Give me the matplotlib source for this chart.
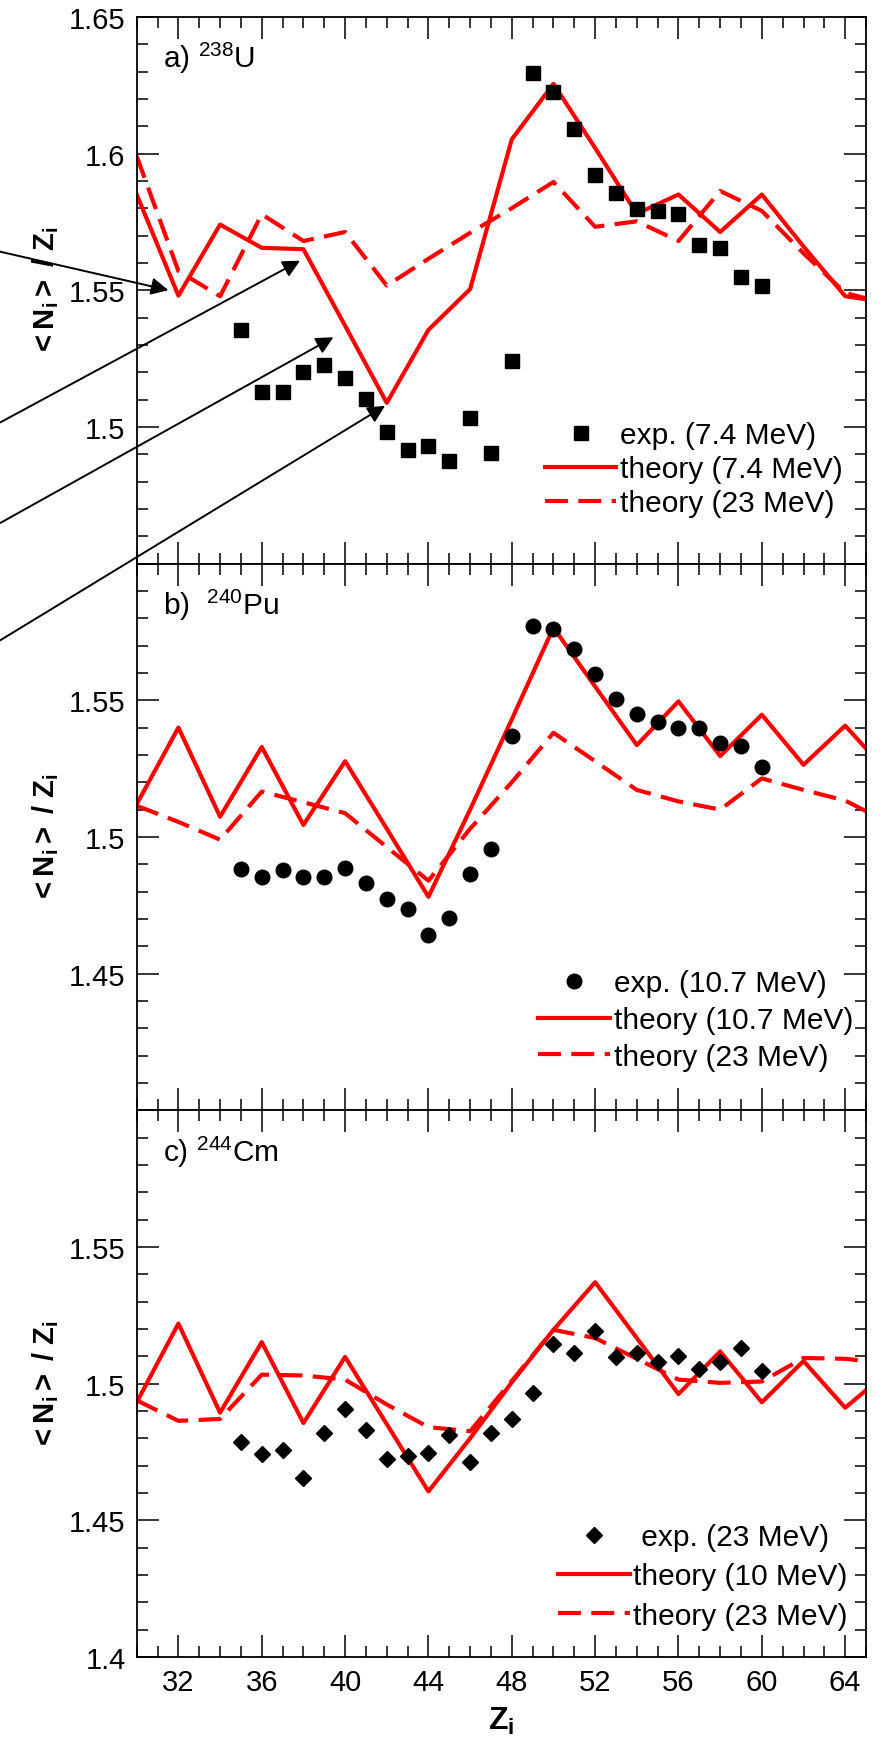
import matplotlib
matplotlib.use('Agg')
import matplotlib.pyplot as plt
from matplotlib.lines import Line2D
from matplotlib.ticker import MultipleLocator, FuncFormatter

plt.rcParams['font.family'] = ['Liberation Sans', 'DejaVu Sans']
plt.rcParams['mathtext.fontset'] = 'custom'
plt.rcParams['mathtext.rm'] = 'Liberation Sans'
plt.rcParams['mathtext.it'] = 'Liberation Sans:italic'
plt.rcParams['mathtext.bf'] = 'Liberation Sans:bold'

# theory is tabulated on even Z, experiment on every Z from 35 to 60
z_theory = [30, 32, 34, 36, 38, 40, 42, 44, 46, 48, 50, 52, 54, 56, 58, 60, 62, 64, 66]
z_exp = list(range(35, 61))

# a) 238U
u_theory_lo = [1.585, 1.548, 1.574, 1.5655, 1.565, 1.537, 1.5088, 1.5355, 1.5504, 1.6052,
               1.6255, 1.602, 1.578, 1.585, 1.5713, 1.585, 1.566, 1.5478, 1.5456]
u_theory_hi = [1.599, 1.557, 1.5478, 1.5778, 1.568, 1.5713, 1.5517, 1.5615, 1.571, 1.580,
               1.5896, 1.5732, 1.5752, 1.568, 1.5863, 1.579, 1.5635, 1.549, 1.545]
u_exp = [1.5354, 1.5128, 1.5128, 1.5201, 1.5227, 1.518, 1.5102, 1.4982, 1.4914, 1.493,
         1.4875, 1.5034, 1.4906, 1.524, 1.6296, 1.6225, 1.6089, 1.5922, 1.5856, 1.5798,
         1.5791, 1.5778, 1.5667, 1.5654, 1.555, 1.5517]

# b) 240Pu
pu_theory_lo = [1.512, 1.540, 1.5074, 1.5329, 1.5044, 1.5277, 1.503, 1.4781, 1.510, 1.543,
                1.5766, 1.555, 1.5336, 1.5496, 1.5296, 1.5447, 1.5264, 1.5407, 1.524]
pu_theory_hi = [1.5114, 1.5055, 1.499, 1.5166, 1.5127, 1.5087, 1.4963, 1.484, 1.503, 1.520,
                1.5381, 1.5277, 1.5172, 1.513, 1.510, 1.5214, 1.5172, 1.5133, 1.5055]
pu_exp = [1.4882, 1.4852, 1.4879, 1.4852, 1.4852, 1.4888, 1.4833, 1.4774, 1.4735, 1.464,
          1.4705, 1.4866, 1.4957, 1.5371, 1.577, 1.5762, 1.5688, 1.5597, 1.5505, 1.545,
          1.542, 1.5398, 1.5398, 1.5342, 1.5332, 1.5257]

# c) 244Cm
cm_theory_lo = [1.4932, 1.522, 1.4894, 1.5152, 1.4856, 1.5098, 1.4852, 1.4606, 1.480, 1.5005,
                1.5197, 1.5371, 1.5167, 1.4962, 1.5118, 1.4932, 1.5083, 1.4912, 1.504]
cm_theory_hi = [1.4939, 1.4864, 1.4871, 1.5033, 1.503, 1.5015, 1.4924, 1.4841, 1.4826, 1.501,
                1.5197, 1.5167, 1.5091, 1.5015, 1.5003, 1.5008, 1.5094, 1.5091, 1.5075]
cm_exp = [1.4788, 1.4742, 1.4758, 1.4655, 1.4818, 1.4909, 1.4829, 1.4724, 1.4735, 1.4745,
          1.4811, 1.4712, 1.4821, 1.4871, 1.4967, 1.5144, 1.5114, 1.5194, 1.5098, 1.5114,
          1.508, 1.5103, 1.5053, 1.508, 1.5132, 1.5045]

panels = [
    ('a) $^{238}$U', u_exp, u_theory_lo, u_theory_hi, 's', 10.5,
     ['exp. (7.4 MeV)', 'theory (7.4 MeV)', 'theory (23 MeV)'], (1.45, 1.65), [1.5, 1.55, 1.6, 1.65]),
    ('b)  $^{240}$Pu', pu_exp, pu_theory_lo, pu_theory_hi, 'o', 10.5,
     ['exp. (10.7 MeV)', 'theory (10.7 MeV)', 'theory (23 MeV)'], (1.4, 1.6), [1.45, 1.5, 1.55]),
    ('c) $^{244}$Cm', cm_exp, cm_theory_lo, cm_theory_hi, 'D', 8,
     [' exp. (23 MeV)', 'theory (10 MeV)', 'theory (23 MeV)'], (1.4, 1.6), [1.4, 1.45, 1.5, 1.55]),
]

fig = plt.figure(figsize=(8.81, 17.49), dpi=100)
left, width = 0.1552, 0.8278
height = 0.3126
bottoms = [0.052 + 2 * height, 0.052 + height, 0.052]
legend_anchor = [(0.968, 0.085), (0.982, 0.072), (0.975, 0.05)]
legend_spacing = [0.2, 0.3, 0.38]

axes = []
for k, (title, exp, th_lo, th_hi, mk, ms, labels, ylim, shown) in enumerate(panels):
    ax = fig.add_axes([left, bottoms[k], width, height])
    axes.append(ax)
    ax.plot(z_theory, th_lo, color='red', lw=3)
    ax.plot(z_theory, th_hi, color='red', lw=3, dashes=(5.5, 2.5))
    ax.plot(z_exp, exp, ls='none', marker=mk, color='black', ms=ms)
    ax.set_xlim(30, 65)
    ax.set_ylim(*ylim)

    ax.xaxis.set_major_locator(MultipleLocator(4))
    ax.xaxis.set_minor_locator(MultipleLocator(1))
    ax.yaxis.set_major_locator(MultipleLocator(0.05))
    ax.yaxis.set_minor_locator(MultipleLocator(0.01))
    ax.yaxis.set_major_formatter(FuncFormatter(
        lambda v, pos, s=shown: '%g' % round(v, 2) if any(abs(v - t) < 1e-6 for t in s) else ''))
    ax.tick_params(which='both', direction='in', top=True, right=True, width=1.1,
                   labelsize=21, pad=8)
    ax.tick_params(which='major', length=16)
    ax.tick_params(which='minor', length=8)
    if k < 2:
        ax.tick_params(labelbottom=False)
    for sp in ax.spines.values():
        sp.set_linewidth(1.3)

    ax.set_ylabel(r'$\mathbf{{<}N_i{>}\ /\ Z_i}$', fontsize=21, labelpad=6)
    ax.text(0.036, 0.925, title, transform=ax.transAxes, fontsize=21.5, va='center')

    handles = [Line2D([], [], ls='none', marker=mk, color='black', ms=ms),
               Line2D([], [], color='red', lw=3),
               Line2D([], [], color='red', lw=3, dashes=(5.5, 2.5))]
    ax.legend(handles, labels, loc='lower right', bbox_to_anchor=legend_anchor[k],
              frameon=False, fontsize=21.5, handlelength=2.4, handletextpad=0.12,
              labelspacing=legend_spacing[k], borderpad=0, borderaxespad=0, numpoints=1)

axes[2].set_xlabel(r'$\mathbf{Z_i}$', fontsize=23, labelpad=6)

# arrows pointing at the 7.4 MeV theory curve of panel a
arrow_tails = [(23.44, 1.5641), (23.44, 1.5016), (23.44, 1.4648), (23.44, 1.4219)]
arrow_tips = [(31.52, 1.5500), (37.84, 1.5608), (39.44, 1.5328), (41.92, 1.5077)]
for tail, tip in zip(arrow_tails, arrow_tips):
    axes[0].annotate('', xy=tip, xytext=tail, annotation_clip=False,
                     arrowprops=dict(arrowstyle='-|>', color='black', lw=1.4,
                                     mutation_scale=26, shrinkA=0, shrinkB=0))

fig.savefig('out.png', dpi=100)
